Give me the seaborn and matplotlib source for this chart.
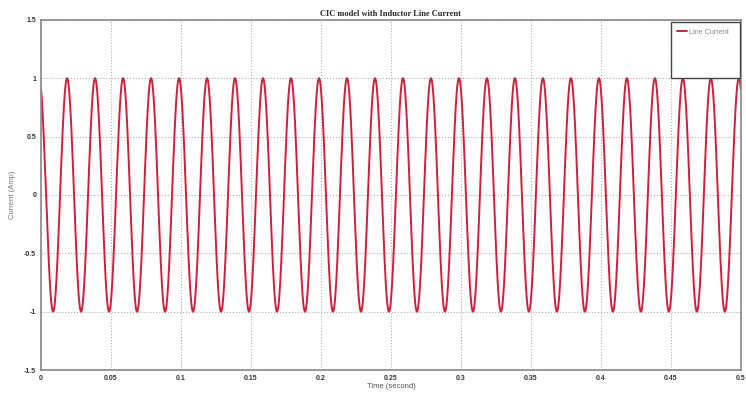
import numpy as np
import pandas as pd
import matplotlib
matplotlib.use("Agg")
import matplotlib.pyplot as plt
from matplotlib.patches import Rectangle
import seaborn as sns

# Simulated inductor line current: 50 Hz sinusoid of unit amplitude
peak_current = 1.0          # A
line_frequency = 50.0       # Hz
phase_deg = 115.0           # initial phase of the current
t_end = 0.5                 # s

x_ticks = [0, 0.05, 0.1, 0.15, 0.2, 0.25, 0.3, 0.35, 0.4, 0.45, 0.5]
x_tick_labels = ["0", "0.05", "0.1", "0.15", "0.2", "0.25", "0.3", "0.35", "0.4", "0.45", "0.5"]
y_ticks = [-1.5, -1, -0.5, 0, 0.5, 1, 1.5]
y_tick_labels = ["-1.5", "-1", "-0.5", "0", "0.5", "1", "1.5"]

t = np.linspace(0, t_end, 5001)
current = peak_current * np.sin(2 * np.pi * line_frequency * t + np.deg2rad(phase_deg))
df = pd.DataFrame({"Time (second)": t, "Line Current": current})

sns.set_style("white")
plt.rcParams["font.family"] = ["Liberation Sans", "DejaVu Sans"]

fig = plt.figure(figsize=(7.46, 3.97), dpi=100)
ax = fig.add_axes([0.055, 0.068, 0.938, 0.882])

sns.lineplot(data=df, x="Time (second)", y="Line Current", ax=ax,
             color="#cf1f3c", linewidth=1.4, label="Line Current")

ax.set_xlim(0, t_end)
ax.set_ylim(-1.5, 1.5)
ax.set_xticks(x_ticks)
ax.set_xticklabels(x_tick_labels)
ax.set_yticks(y_ticks)
ax.set_yticklabels(y_tick_labels)
ax.tick_params(axis="both", labelsize=5, length=3, direction="in", color="#777777",
               labelcolor="#333333")
for lbl in ax.get_xticklabels() + ax.get_yticklabels():
    lbl.set_fontweight("bold")

ax.grid(True, linestyle=":", color="#b0b0b0", linewidth=0.8)
for spine in ax.spines.values():
    spine.set_color("#888888")
    spine.set_linewidth(1.2)

ax.set_xlabel("Time (second)", fontsize=5.5, color="#555555", labelpad=1)
ax.set_ylabel("Current (Amp)", fontsize=5.5, color="#777777", labelpad=6)
ax.set_title("CIC model with Inductor Line Current", fontsize=6, fontweight="bold",
             family=["Liberation Serif", "DejaVu Serif"], pad=3)

# Legend: a tall white box in the upper right corner, entry at its top
box = Rectangle((0.9, 0.834), 0.099, 0.16, transform=ax.transAxes,
                facecolor="white", edgecolor="#444444", linewidth=1.0, zorder=4.5)
ax.add_patch(box)
leg = ax.legend(loc="upper left", bbox_to_anchor=(0.903, 0.985), fontsize=5.2,
                frameon=False, borderpad=0.5, handlelength=1.5, handletextpad=0.2,
                borderaxespad=0.0)
for txt in leg.get_texts():
    txt.set_color("#888888")
leg.set_zorder(6)

fig.savefig("out.png", dpi=100)
